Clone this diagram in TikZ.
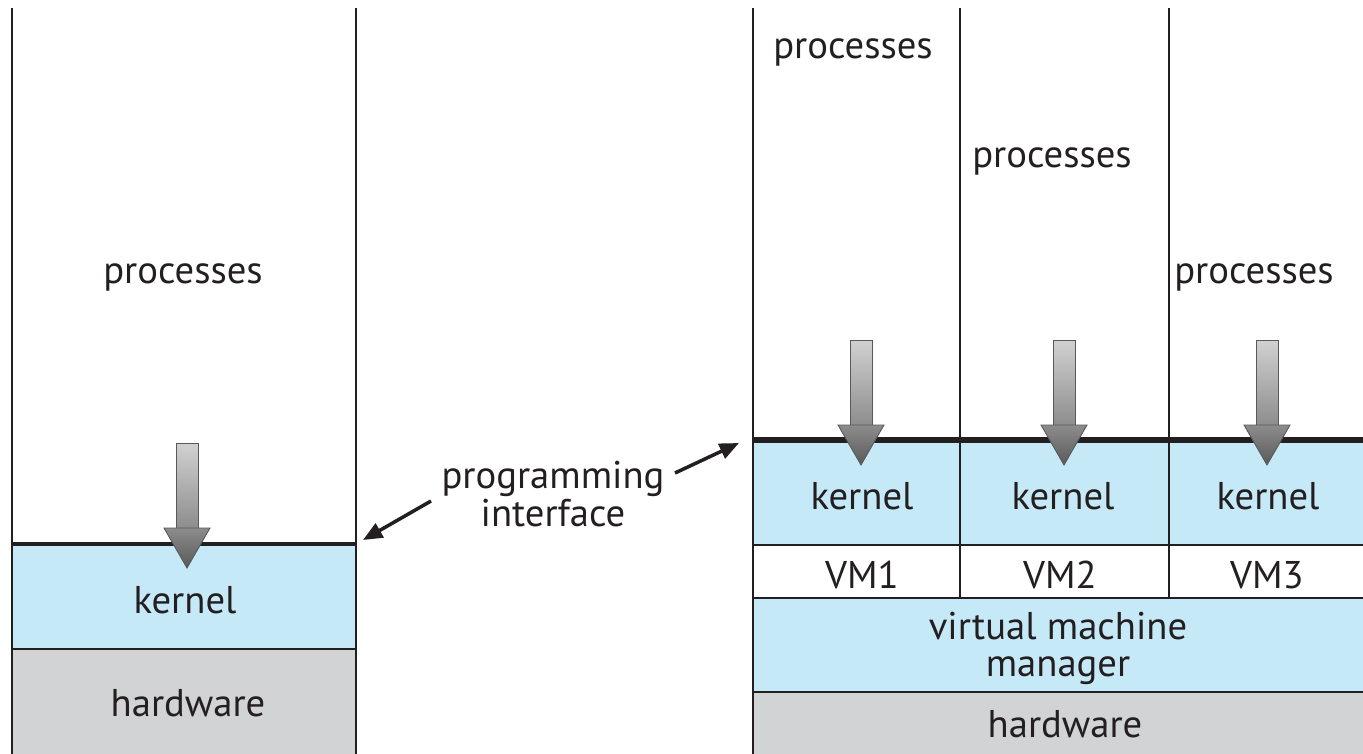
\documentclass[tikz,border=0pt]{standalone}
\usepackage{fontspec}
\setmainfont{PT Sans}
\usetikzlibrary{arrows.meta}
\definecolor{kblue}{HTML}{C6E9F8}
\definecolor{hwgray}{HTML}{D1D3D4}
\definecolor{ink}{HTML}{231F20}
\tikzset{
  lbl/.style={inner sep=0pt, font=\fontsize{22}{22}\selectfont, text=ink, align=center},
  thin/.style={draw=ink, line width=0.85pt},
  thick line/.style={draw=ink, line width=1.8pt},
  thicker line/.style={draw=ink, line width=3.4pt},
  pointer/.style={draw=ink, line width=2pt, -{Triangle[length=11pt,width=9pt]}},
  garrow/.pic={
    \shade[top color=black!18, bottom color=black!45, draw=black!65, line width=0.5pt]
      (-11,0) rectangle (11,86);
    \shade[top color=black!45, bottom color=black!65, draw=black!65, line width=0.5pt]
      (-23,85) -- (23,85) -- (0,125) -- cycle;
  }
}
\begin{document}
\begin{tikzpicture}[x=0.02cm, y=-0.02cm]
\useasboundingbox (0,0) rectangle (1363,754);
% ---------- left stack ----------
\fill[kblue] (12,544) rectangle (356,649);
\fill[hwgray] (12,649) rectangle (356,754);
\draw[thin] (12,8) -- (12,754);
\draw[thin] (356,8) -- (356,754);
\draw[thin] (12,649) -- (356,649);
\draw[thick line] (12,544) -- (356,544);
\pic at (187,443) {garrow};
\node[lbl] (lproc) at (183,277) {processes};
\node[lbl] (lkern) at (185,600) {kernel};
\node[lbl] (lhw) at (188,703) {hardware};
% ---------- right stack ----------
\fill[kblue] (753,440) rectangle (1363,545);
\fill[kblue] (753,598) rectangle (1363,692);
\fill[hwgray] (753,692) rectangle (1363,754);
\draw[thin] (753,8) -- (753,754);
\draw[thin] (960,8) -- (960,598);
\draw[thin] (1169,8) -- (1169,598);
\draw[thin] (753,545) -- (1363,545);
\draw[thin] (753,598) -- (1363,598);
\draw[thin] (753,692) -- (1363,692);
\draw[thicker line] (753,440) -- (1363,440);
\pic at (861,340) {garrow};
\pic at (1064,340) {garrow};
\pic at (1267,340) {garrow};
\node[lbl] (p1) at (853,52) {processes};
\node[lbl] (p2) at (1052,161) {processes};
\node[lbl] (p3) at (1254,277) {processes};
\node[lbl] (k1) at (862,496) {kernel};
\node[lbl] (k2) at (1063,496) {kernel};
\node[lbl] (k3) at (1268,496) {kernel};
\node[lbl] (vm1) at (862,575) {VM1};
\node[lbl] (vm2) at (1060,575) {VM2};
\node[lbl] (vm3) at (1267,575) {VM3};
\node[lbl] (vmm) at (1058,648) {virtual machine\\[-1pt]manager};
\node[lbl] (rhw) at (1065,724) {hardware};
% ---------- programming interface ----------
\node[lbl] (pi) at (553,494) {programming\\interface};
\coordinate (lend) at (363,540);
\coordinate (rend) at (739,443);
\coordinate (lstart) at (431,501);
\coordinate (rstart) at (675,473);
\draw[pointer] (lstart) -- (lend);
\draw[pointer] (rstart) -- (rend);
\end{tikzpicture}
\end{document}
